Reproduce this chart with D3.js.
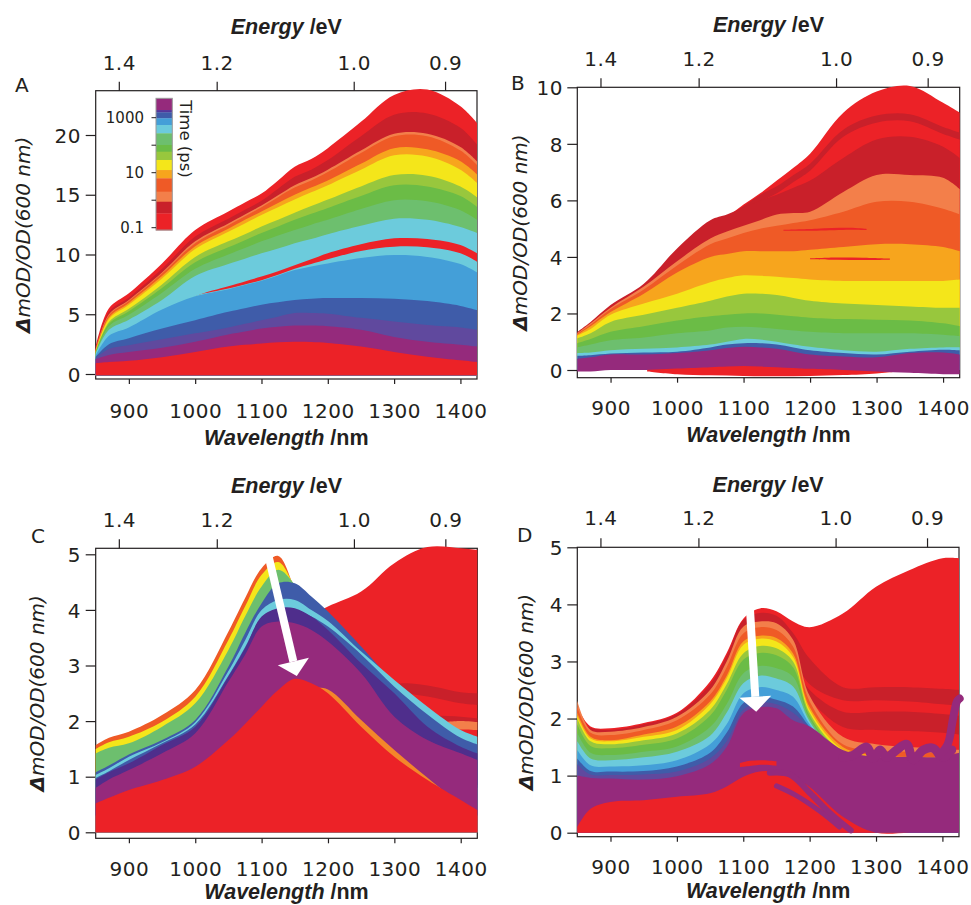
<!DOCTYPE html>
<html>
<head>
	<meta charset="utf-8">
	<style>
		html, body { margin: 0; padding: 0; background: #fff; }
		text { font-family: 'DejaVu Sans', sans-serif; fill: #231f20; }
		.ttl { font-family: 'Liberation Sans', Arial, sans-serif; }
	</style>
</head>
<body>
	<script src="https://d3js.org/d3.v7.min.js"></script>
	<script>
		var wl = [850, 870, 900, 950, 1000, 1050, 1075, 1100, 1125, 1150, 1175, 1200, 1250, 1300, 1350, 1400, 1425];

		// panel A, upper edge of each band, drawn top band first
		var aRed      = [2.3, 5.5, 6.75, 9.25, 12.05, 13.6, 14.35, 15.1, 16.2, 17.35, 18.0, 18.9, 21.1, 23.35, 23.8, 22.4, 21.0];
		var aDarkRed  = [2.1, 5.2, 6.4, 8.8, 11.5, 13.0, 13.75, 14.5, 15.5, 16.5, 17.1, 17.9, 19.9, 21.7, 21.8, 20.6, 19.2];
		var aLOrange  = [2.05, 5.0, 6.2, 8.5, 11.1, 12.6, 13.35, 14.1, 14.95, 15.8, 16.4, 17.1, 18.7, 20.1, 20.1, 19.0, 17.8];
		var aOrange   = [2.0, 4.9, 6.1, 8.4, 10.95, 12.45, 13.2, 13.95, 14.8, 15.6, 16.2, 16.9, 18.5, 19.9, 19.9, 18.7, 17.5];
		var aAmber    = [1.95, 4.75, 5.95, 8.2, 10.7, 12.15, 12.9, 13.6, 14.3, 15.0, 15.6, 16.2, 17.6, 18.9, 18.8, 17.8, 16.7];
		var aYellow   = [1.9, 4.6, 5.8, 8.0, 10.45, 11.9, 12.6, 13.3, 13.95, 14.6, 15.2, 15.8, 17.1, 18.3, 18.2, 17.1, 16.0];
		var aYGreen   = [1.85, 4.35, 5.45, 7.5, 9.8, 11.1, 11.7, 12.35, 12.9, 13.5, 14.05, 14.6, 15.7, 16.65, 16.6, 15.7, 14.8];
		var aGreen    = [1.8, 4.2, 5.25, 7.2, 9.35, 10.6, 11.2, 11.8, 12.35, 12.9, 13.4, 13.9, 14.9, 15.8, 15.7, 14.9, 14.0];
		var aLGreen   = [1.75, 4.0, 4.95, 6.8, 8.8, 10.0, 10.55, 11.1, 11.6, 12.05, 12.5, 12.9, 13.8, 14.55, 14.45, 13.7, 12.9];
		var aLBlue    = [1.7, 3.7, 4.55, 6.2, 8.2, 9.2, 9.65, 10.1, 10.5, 10.95, 11.3, 11.7, 12.4, 13.0, 12.9, 12.3, 11.8];
		var aRedStrip = [1.2, 2.9, 3.5, 4.9, 6.5, 7.35, 7.75, 8.15, 8.6, 9.1, 9.6, 10.1, 10.85, 11.35, 11.3, 10.8, 10.1];
		var aLBlue2   = [1.6, 3.3, 4.0, 5.6, 6.55, 7.15, 7.5, 7.85, 8.3, 8.8, 9.2, 9.6, 10.3, 10.65, 10.6, 10.1, 9.4];
		var aBlue     = [1.55, 3.2, 3.9, 5.4, 6.5, 7.1, 7.45, 7.8, 8.25, 8.7, 9.0, 9.25, 9.7, 9.96, 9.8, 9.2, 8.5];
		var aDBlue    = [1.45, 2.5, 3.0, 3.8, 4.5, 5.2, 5.5, 5.8, 6.0, 6.2, 6.3, 6.35, 6.35, 6.3, 6.1, 5.7, 5.35];
		var aPBlue    = [1.35, 2.1, 2.4, 2.9, 3.4, 3.9, 4.2, 4.5, 4.8, 5.1, 5.1, 5.05, 4.7, 4.4, 4.1, 3.9, 3.7];
		var aPurple   = [1.25, 1.6, 1.85, 2.2, 2.7, 3.3, 3.55, 3.8, 3.95, 4.05, 4.05, 4.0, 3.7, 3.1, 2.7, 2.45, 2.3];
		var aRedLow   = [0.9, 1.0, 1.1, 1.4, 1.85, 2.3, 2.45, 2.55, 2.65, 2.7, 2.68, 2.6, 2.3, 1.85, 1.45, 1.15, 1.0];

		// panel B
		var bRed      = [1.2, 1.55, 2.1, 2.85, 4.0, 5.0, 5.4, 5.85, 6.25, 6.7, 7.15, 7.65, 9.1, 9.85, 10.05, 9.45, 9.1];
		var bDrLine   = [1.3, 1.6, 2.2, 2.9, 4.1, 5.0, 5.4, 5.8, 6.2, 6.5, 6.9, 7.3, 8.5, 9.0, 9.05, 8.6, 8.4];
		var bRed2     = [1.05, 1.35, 1.95, 2.65, 3.85, 4.75, 5.15, 5.55, 5.95, 6.25, 6.65, 7.05, 8.25, 8.75, 8.8, 8.35, 8.15];
		var bDarkRed  = [1.35, 1.7, 2.3, 3.05, 4.3, 5.3, 5.5, 5.75, 6.0, 6.2, 6.45, 6.7, 7.5, 8.15, 8.25, 7.9, 7.5];
		var bLOrange  = [1.3, 1.65, 2.2, 2.95, 3.85, 4.65, 4.9, 5.1, 5.3, 5.5, 5.55, 5.6, 6.3, 6.9, 6.9, 6.8, 6.4];
		var bOrange   = [1.28, 1.6, 2.15, 2.85, 3.7, 4.45, 4.65, 4.85, 5.0, 5.1, 5.2, 5.3, 5.6, 5.95, 5.95, 5.7, 5.5];
		var bAmber    = [1.25, 1.55, 2.05, 2.7, 3.45, 4.0, 4.1, 4.2, 4.2, 4.2, 4.2, 4.25, 4.35, 4.45, 4.45, 4.35, 4.2];
		var bYellow   = [1.22, 1.45, 1.95, 2.35, 2.7, 3.1, 3.25, 3.35, 3.33, 3.3, 3.25, 3.2, 3.15, 3.15, 3.15, 3.15, 3.2];
		var bYGreen   = [1.12, 1.3, 1.7, 1.95, 2.2, 2.45, 2.6, 2.7, 2.7, 2.65, 2.55, 2.45, 2.35, 2.3, 2.25, 2.2, 2.2];
		var bGreen    = [0.95, 1.1, 1.35, 1.55, 1.75, 1.9, 1.95, 2.0, 2.0, 1.95, 1.9, 1.85, 1.8, 1.78, 1.75, 1.65, 1.55];
		var bLGreen   = [0.8, 0.9, 1.05, 1.15, 1.3, 1.4, 1.5, 1.53, 1.5, 1.45, 1.4, 1.35, 1.3, 1.3, 1.3, 1.25, 1.2];
		var bLBlue    = [0.6, 0.62, 0.7, 0.75, 0.8, 0.9, 1.0, 1.1, 1.08, 1.0, 0.9, 0.82, 0.7, 0.65, 0.75, 0.8, 0.8];
		var bDBlue    = [0.5, 0.52, 0.58, 0.62, 0.65, 0.8, 0.9, 0.95, 0.95, 0.9, 0.8, 0.7, 0.6, 0.55, 0.65, 0.72, 0.7];
		var bPurpleHi = [0.4, 0.45, 0.55, 0.55, 0.6, 0.7, 0.78, 0.82, 0.8, 0.75, 0.65, 0.55, 0.48, 0.45, 0.6, 0.62, 0.55];
		var bPurpleLo = [-0.05, -0.05, 0.0, 0.0, 0.05, 0.1, 0.12, 0.14, 0.12, 0.1, 0.07, 0.04, 0.0, -0.05, -0.1, -0.15, -0.15];
		var bRedLowW  = [955, 1000, 1050, 1100, 1150, 1200, 1250, 1300, 1325];
		var bRedLowHi = [0.05, 0.12, 0.15, 0.2, 0.2, 0.15, 0.1, 0.05, -0.05];
		var bRedLowLo = [-0.05, -0.15, -0.19, -0.21, -0.22, -0.21, -0.18, -0.12, -0.07];
		var bStreak1W = [1200, 1240, 1280, 1320];
		var bStreak1Hi = [3.95, 3.98, 3.97, 3.94];
		var bStreak1Lo = [3.92, 3.9, 3.89, 3.9];
		var bStreak2W = [1160, 1210, 1260, 1285];
		var bStreak2Hi = [4.96, 5.0, 5.03, 4.99];
		var bStreak2Lo = [4.93, 4.93, 4.96, 4.95];

		// panel C
		var cBigRed   = [0.6, 0.7, 0.9, 1.2, 1.6, 2.3, 2.7, 3.1, 3.4, 3.7, 3.9, 4.06, 4.33, 4.84, 5.13, 5.11, 5.08];
		var cOrange   = [1.57, 1.7, 1.81, 2.11, 2.56, 3.61, 4.21, 4.75, 4.97, 4.4, 3.9, 3.4, 2.6, 2.0, 1.5, 1.0, 0.8];
		var cYellow   = [1.5, 1.62, 1.72, 1.99, 2.44, 3.46, 4.06, 4.63, 4.86, 4.42, 3.9, 3.4, 2.6, 2.0, 1.5, 1.0, 0.8];
		var cGreen    = [1.42, 1.52, 1.6, 1.9, 2.32, 3.28, 3.88, 4.42, 4.72, 4.45, 3.95, 3.45, 2.65, 2.05, 1.55, 1.05, 0.85];
		var cBlue     = [1.08, 1.2, 1.4, 1.66, 2.02, 2.98, 3.58, 4.12, 4.48, 4.48, 4.24, 3.97, 3.34, 2.68, 2.14, 1.72, 1.6];
		var cLBlue    = [1.03, 1.15, 1.36, 1.62, 1.98, 2.9, 3.45, 4.0, 4.18, 4.18, 4.0, 3.8, 3.25, 2.74, 2.26, 1.84, 1.72];
		var cBlue2    = [0.98, 1.1, 1.3, 1.6, 1.94, 2.82, 3.33, 3.86, 4.0, 4.0, 3.88, 3.7, 3.2, 2.62, 2.12, 1.7, 1.58];
		var cDPurple  = [0.95, 1.08, 1.24, 1.57, 1.9, 2.8, 3.31, 3.88, 4.03, 4.03, 3.88, 3.64, 3.04, 2.5, 1.9, 1.54, 1.42];
		var cPurple   = [0.8, 0.95, 1.12, 1.42, 1.78, 2.71, 3.19, 3.7, 3.79, 3.76, 3.64, 3.43, 2.86, 2.08, 1.66, 1.42, 1.3];
		var cOrangeLn = [0.3, 0.4, 0.5, 0.7, 1.0, 1.5, 1.7, 2.0, 2.3, 2.6, 2.6, 2.57, 2.02, 1.48, 0.98, 0.5, 0.3];
		var cRedLow   = [0.52, 0.62, 0.76, 0.94, 1.18, 1.66, 1.95, 2.26, 2.56, 2.76, 2.68, 2.5, 1.9, 1.36, 0.94, 0.58, 0.4];
		var cDr1W = [1290, 1320, 1360, 1400, 1425];
		var cDr1Hi = [2.66, 2.68, 2.62, 2.52, 2.5];
		var cDr1Lo = [2.58, 2.5, 2.42, 2.32, 2.29];
		var cDr2W = [1320, 1360, 1400, 1425];
		var cDr2Hi = [2.1, 2.1, 2.08, 2.05];
		var cDr2Lo = [2.03, 2.0, 1.98, 1.96];
		var cLoW = [1365, 1400, 1425];
		var cLoHi = [1.97, 2.0, 1.98];
		var cLoLo = [1.86, 1.85, 1.84];
		var cArrowW = [1110, 1153];
		var cArrowV = [4.99, 2.81];

		// panel D
		var dBigRed   = [2.2, 1.86, 1.83, 1.92, 2.1, 2.65, 3.15, 3.75, 3.93, 3.88, 3.7, 3.6, 3.84, 4.31, 4.6, 4.81, 4.81];
		var dDarkRed1 = [2.0, 1.84, 1.8, 1.9, 2.08, 2.6, 3.1, 3.72, 3.85, 3.8, 3.5, 3.05, 2.55, 2.55, 2.55, 2.52, 2.5];
		var dRed2     = [1.8, 1.6, 1.6, 1.65, 1.9, 2.4, 2.85, 3.4, 3.55, 3.5, 3.1, 2.6, 2.32, 2.32, 2.3, 2.25, 2.22];
		var dDarkRed2 = [1.7, 1.55, 1.55, 1.6, 1.85, 2.3, 2.75, 3.3, 3.45, 3.4, 3.0, 2.5, 2.12, 2.12, 2.12, 2.08, 2.05];
		var dRed3     = [1.6, 1.5, 1.5, 1.55, 1.8, 2.2, 2.65, 3.2, 3.35, 3.3, 2.9, 2.35, 1.85, 1.8, 1.78, 1.75, 1.72];
		var dLOrange  = [2.31, 1.8, 1.77, 1.85, 2.03, 2.5, 3.0, 3.61, 3.7, 3.67, 3.38, 2.4, 1.68, 1.55, 1.5, 1.47, 1.45];
		var dOrange   = [2.2, 1.75, 1.71, 1.8, 1.97, 2.42, 2.9, 3.49, 3.6, 3.55, 3.26, 2.3, 1.55, 1.45, 1.42, 1.4, 1.38];
		var dAmber    = [2.1, 1.68, 1.62, 1.72, 1.86, 2.3, 2.75, 3.35, 3.45, 3.41, 3.14, 2.2, 1.5, 1.35, 1.33, 1.32, 1.3];
		var dYellow   = [2.05, 1.65, 1.6, 1.68, 1.8, 2.25, 2.7, 3.29, 3.4, 3.35, 3.08, 2.15, 1.45, 1.3, 1.28, 1.27, 1.25];
		var dYGreen   = [2.0, 1.6, 1.55, 1.62, 1.74, 2.15, 2.6, 3.14, 3.27, 3.23, 3.0, 2.1, 1.4, 1.25, 1.23, 1.22, 1.2];
		var dGreen    = [1.9, 1.52, 1.48, 1.54, 1.65, 2.05, 2.5, 3.03, 3.15, 3.11, 2.9, 2.05, 1.35, 1.2, 1.18, 1.17, 1.15];
		var dLGreen   = [1.75, 1.4, 1.36, 1.42, 1.51, 1.85, 2.25, 2.79, 2.92, 2.88, 2.73, 2.0, 1.3, 1.15, 1.13, 1.12, 1.1];
		var dLBlue    = [1.6, 1.3, 1.27, 1.32, 1.42, 1.7, 2.1, 2.62, 2.75, 2.7, 2.56, 1.95, 1.25, 1.1, 1.08, 1.06, 1.05];
		var dBlue     = [1.45, 1.18, 1.16, 1.18, 1.27, 1.55, 1.9, 2.44, 2.55, 2.5, 2.38, 1.9, 1.2, 1.05, 1.03, 1.02, 1.0];
		var dDBlue    = [1.3, 1.08, 1.07, 1.08, 1.16, 1.4, 1.75, 2.27, 2.38, 2.33, 2.21, 1.85, 1.15, 1.0, 0.98, 0.96, 0.95];
		var dPBlue    = [1.2, 1.02, 1.01, 1.02, 1.07, 1.3, 1.6, 2.15, 2.28, 2.25, 2.1, 1.82, 1.1, 0.95, 0.93, 0.92, 0.9];
		var dPurple   = [1.0, 0.96, 0.95, 0.93, 0.99, 1.2, 1.5, 2.09, 2.2, 2.18, 1.97, 1.86, 1.45, 1.33, 1.33, 1.33, 1.4];
		var dRedLow   = [0.1, 0.42, 0.54, 0.57, 0.63, 0.69, 0.81, 0.98, 1.07, 1.08, 0.98, 0.8, 0.28, 0, 0, 0, 0];
		var dStripW  = [1095, 1110, 1130, 1150];
		var dStripHi = [1.22, 1.26, 1.27, 1.25];
		var dStripLo = [1.15, 1.17, 1.19, 1.17];
		var dLineW = [1140, 1170, 1200, 1230, 1262];
		var dLineV = [1.05, 1.02, 0.7, 0.35, 0.04];
		var dLine2W = [1150, 1180, 1215, 1245];
		var dLine2V = [0.82, 0.65, 0.38, 0.1];
		var dWiggleW = [1250, 1266, 1286, 1296, 1306, 1316, 1331, 1346, 1356, 1371, 1386, 1401, 1414];
		var dWiggleV = [1.32, 1.36, 1.5, 1.3, 1.45, 1.32, 1.45, 1.55, 1.28, 1.45, 1.48, 1.32, 1.45];
		var dSpikeW = [1395, 1408, 1416, 1422, 1426];
		var dSpikeV = [1.35, 1.55, 2.0, 2.3, 2.35];
		var dArrowW = [1110, 1119.5];
		var dArrowV = [3.93, 2.12];

		// colour bar of panel A: band edges in ps, top to bottom
		var timeEdges = [5070, 1900, 1570, 950, 543, 271, 102, 58, 29, 12.5, 6.25, 2.04, 0.88, 0.33, 0.082];
		var timeColors = ["purple", "indigo", "dblue", "blue", "lblue", "lgreen", "green", "ygreen", "yellow", "amber", "orange", "lorange", "darkred", "red"];
		var timeTicks = [1000, 100, 10, 1, 0.1];
		var timeLabels = ["1000", "", "10", "", "0.1"];

		var xTicks = [900, 1000, 1100, 1200, 1300, 1400];
		var eTicks = [1.4, 1.2, 1.0, 0.9];
		var eLabels = ["1.4", "1.2", "1.0", "0.9"];
		var aTicks = [0, 5, 10, 15, 20];
		var bTicks = [0, 2, 4, 6, 8, 10];
		var cdTicks = [0, 1, 2, 3, 4, 5];

		var pal = {
			red: "#ec2227", darkred: "#c9202a", lorange: "#f37f4a", orange: "#ef5a26",
			amber: "#f7a51d", yellow: "#f4e61a", ygreen: "#98c73d", green: "#6bbc46",
			lgreen: "#6dbf6e", lblue: "#6ccbdc", blue: "#449fd8", dblue: "#3f5ca9",
			pblue: "#60499e", indigo: "#55369a", dpurple: "#4f2e8c", purple: "#952a7c",
			oline: "#f4862a"
		};
		var ink = "#231f20";

		var panels = [
			{ name: "A", x0: 95.7, x1: 477, yT: 90.7, yB: 379, yPx: [374, 135], yVal: [0, 20], ticks: aTicks, floor: -0.1,
			  lab: [15, 92], eTitle: 34, eTick: 70, wTick: 418, wTitle: 445, yTitleX: 23, yTickX: 81,
			  bands: [
				{ c: "red", hi: aRed }, { c: "darkred", hi: aDarkRed }, { c: "lorange", hi: aLOrange }, { c: "orange", hi: aOrange },
				{ c: "amber", hi: aAmber }, { c: "yellow", hi: aYellow }, { c: "ygreen", hi: aYGreen }, { c: "green", hi: aGreen },
				{ c: "lgreen", hi: aLGreen }, { c: "lblue", hi: aLBlue }, { c: "red", hi: aRedStrip }, { c: "lblue", hi: aLBlue2 },
				{ c: "blue", hi: aBlue }, { c: "dblue", hi: aDBlue }, { c: "pblue", hi: aPBlue }, { c: "purple", hi: aPurple },
				{ c: "red", hi: aRedLow }
			  ] },
			{ name: "B", x0: 577.3, x1: 959.7, yT: 87.3, yB: 377.7, yPx: [370, 87.3], yVal: [0, 10], ticks: bTicks, floor: 0,
			  lab: [511, 90], eTitle: 31.7, eTick: 65.7, wTick: 415, wTitle: 441.7, yTitleX: 520, yTickX: 563,
			  bands: [
				{ c: "red", hi: bRed }, { c: "darkred", hi: bDrLine }, { c: "red", hi: bRed2 }, { c: "darkred", hi: bDarkRed },
				{ c: "lorange", hi: bLOrange }, { c: "orange", hi: bOrange },
				{ c: "red", x: bStreak2W, hi: bStreak2Hi, lo: bStreak2Lo },
				{ c: "amber", hi: bAmber },
				{ c: "red", x: bStreak1W, hi: bStreak1Hi, lo: bStreak1Lo },
				{ c: "yellow", hi: bYellow }, { c: "ygreen", hi: bYGreen }, { c: "green", hi: bGreen }, { c: "lgreen", hi: bLGreen },
				{ c: "lblue", hi: bLBlue }, { c: "dblue", hi: bDBlue },
				{ c: "red", x: bRedLowW, hi: bRedLowHi, lo: bRedLowLo },
				{ c: "purple", hi: bPurpleHi, lo: bPurpleLo }
			  ] },
			{ name: "C", x0: 95.7, x1: 477.3, yT: 548.3, yB: 838.3, yPx: [832.3, 554.3], yVal: [0, 5], ticks: cdTicks, floor: 0,
			  lab: [31, 543], eTitle: 493.3, eTick: 526.7, wTick: 876, wTitle: 899, yTitleX: 37, yTickX: 81,
			  bands: [
				{ c: "red", hi: cBigRed },
				{ c: "darkred", x: cDr1W, hi: cDr1Hi, lo: cDr1Lo },
				{ c: "darkred", x: cDr2W, hi: cDr2Hi, lo: cDr2Lo },
				{ c: "lorange", x: cLoW, hi: cLoHi, lo: cLoLo },
				{ c: "orange", hi: cOrange }, { c: "yellow", hi: cYellow }, { c: "lgreen", hi: cGreen },
				{ c: "dblue", hi: cBlue }, { c: "lblue", hi: cLBlue }, { c: "dblue", hi: cBlue2 },
				{ c: "dpurple", hi: cDPurple }, { c: "purple", hi: cPurple },
				{ c: "oline", hi: cOrangeLn }, { c: "red", hi: cRedLow }
			  ],
			  arrow: [cArrowW, cArrowV] },
			{ name: "D", x0: 577.3, x1: 959, yT: 547.3, yB: 836.7, yPx: [832.7, 547.3], yVal: [0, 5], ticks: cdTicks, floor: 0,
			  lab: [517, 541.7], eTitle: 491.7, eTick: 525, wTick: 874, wTitle: 898, yTitleX: 526, yTickX: 563,
			  bands: [
				{ c: "red", hi: dBigRed }, { c: "darkred", hi: dDarkRed1 }, { c: "red", hi: dRed2 }, { c: "darkred", hi: dDarkRed2 },
				{ c: "red", hi: dRed3 }, { c: "lorange", hi: dLOrange }, { c: "orange", hi: dOrange }, { c: "amber", hi: dAmber },
				{ c: "yellow", hi: dYellow }, { c: "ygreen", hi: dYGreen }, { c: "green", hi: dGreen }, { c: "lgreen", hi: dLGreen },
				{ c: "lblue", hi: dLBlue }, { c: "blue", hi: dBlue }, { c: "dblue", hi: dDBlue }, { c: "pblue", hi: dPBlue },
				{ c: "purple", hi: dPurple }, { c: "red", hi: dRedLow },
				{ c: "red", x: dStripW, hi: dStripHi, lo: dStripLo }
			  ],
			  lines: [
				{ c: "purple", x: dLineW, v: dLineV, w: 6 },
				{ c: "purple", x: dLine2W, v: dLine2V, w: 5 },
				{ c: "purple", x: dWiggleW, v: dWiggleV, w: 9 },
				{ c: "purple", x: dSpikeW, v: dSpikeV, w: 8 }
			  ],
			  arrow: [dArrowW, dArrowV] }
		];

		var svg = d3.select("body").append("svg")
			.attr("width", 971)
			.attr("height", 905);

		panels.forEach(function(p) {
			var x = d3.scaleLinear().domain([850, 1425]).range([p.x0, p.x1]);
			var y = d3.scaleLinear().domain(p.yVal).range(p.yPx);
			var g = svg.append("g");
			var cx = (p.x0 + p.x1) / 2;

			// frame
			g.append("rect")
				.attr("x", p.x0).attr("y", p.yT)
				.attr("width", p.x1 - p.x0).attr("height", p.yB - p.yT)
				.attr("fill", "none").attr("stroke", ink).attr("stroke-width", 1.2);

			// bottom axis
			var bx = g.append("g").attr("transform", "translate(0," + p.yB + ")")
				.call(d3.axisBottom(x).tickValues(xTicks).tickSize(5).tickSizeOuter(0).tickFormat(d3.format("d")));
			bx.select(".domain").remove();
			bx.selectAll("text").attr("y", p.wTick - p.yB).attr("dy", 0)
				.style("font-size", "20px").style("letter-spacing", "0.5px")
				.style("font-family", "'DejaVu Sans', sans-serif").attr("fill", ink);

			// left axis
			var ly = g.append("g").attr("transform", "translate(" + p.x0 + ",0)")
				.call(d3.axisLeft(y).tickValues(p.ticks).tickSize(10).tickSizeOuter(0).tickFormat(d3.format("d")));
			ly.select(".domain").remove();
			ly.selectAll("text").attr("x", p.yTickX - p.x0).attr("dy", "0.36em")
				.style("font-size", "20px").style("letter-spacing", "0.5px")
				.style("font-family", "'DejaVu Sans', sans-serif").attr("fill", ink);
			g.selectAll(".tick line").attr("stroke", ink).attr("stroke-width", 1.2);

			// top energy axis
			g.selectAll(".etick").data(eTicks).enter().append("line")
				.attr("x1", function(d) { return x(1239.84 / d); })
				.attr("x2", function(d) { return x(1239.84 / d); })
				.attr("y1", p.yT - 9).attr("y2", p.yT)
				.attr("stroke", ink).attr("stroke-width", 1.2);
			g.selectAll(".elab").data(eTicks).enter().append("text")
				.attr("x", function(d) { return x(1239.84 / d); })
				.attr("y", p.eTick)
				.attr("text-anchor", "middle")
				.style("font-size", "20px").style("letter-spacing", "0.5px")
				.text(function(d, i) { return eLabels[i]; });

			// spectra bands
			p.bands.forEach(function(b) {
				var xs = b.x || wl;
				var pts = xs.map(function(w, i) {
					return { w: w, hi: b.hi[i], lo: b.lo ? b.lo[i] : p.floor };
				});
				var area = d3.area()
					.curve(d3.curveCatmullRom.alpha(0.5))
					.x(function(d) { return x(d.w); })
					.y0(function(d) { return y(d.lo); })
					.y1(function(d) { return y(d.hi); });
				g.append("path").attr("d", area(pts)).attr("fill", pal[b.c]);
			});

			(p.lines || []).forEach(function(l) {
				var pts = l.x.map(function(w, i) { return [x(w), y(l.v[i])]; });
				var line = d3.line().curve(d3.curveCatmullRom.alpha(0.5));
				g.append("path").attr("d", line(pts))
					.attr("fill", "none").attr("stroke", pal[l.c])
					.attr("stroke-width", l.w).attr("stroke-linecap", "round").attr("stroke-linejoin", "round");
			});

			// white arrow
			if (p.arrow) {
				var x1 = x(p.arrow[0][0]), y1 = y(p.arrow[1][0]);
				var x2 = x(p.arrow[0][1]), y2 = y(p.arrow[1][1]);
				var ang = Math.atan2(y2 - y1, x2 - x1);
				var hl = 15, hw = 16;
				var hx = x2 - hl * Math.cos(ang), hy = y2 - hl * Math.sin(ang);
				var nx = -Math.sin(ang), ny = Math.cos(ang);
				g.append("line")
					.attr("x1", x1).attr("y1", y1).attr("x2", hx).attr("y2", hy)
					.attr("stroke", "#fff").attr("stroke-width", 8);
				g.append("path")
					.attr("d", "M" + x2 + "," + y2 + "L" + (hx + nx * hw) + "," + (hy + ny * hw) +
						"L" + (hx - nx * hw) + "," + (hy - ny * hw) + "Z")
					.attr("fill", "#fff");
			}

			// titles
			var et = g.append("text").attr("class", "ttl").attr("x", cx).attr("y", p.eTitle)
				.attr("text-anchor", "middle").style("font-size", "21.5px").style("font-weight", "bold");
			et.append("tspan").style("font-style", "italic").text("Energy");
			et.append("tspan").text(" /eV");

			var wt = g.append("text").attr("class", "ttl").attr("x", cx).attr("y", p.wTitle)
				.attr("text-anchor", "middle").style("font-size", "21.5px").style("font-weight", "bold");
			wt.append("tspan").style("font-style", "italic").text("Wavelength");
			wt.append("tspan").text(" /nm");

			var yt = g.append("text")
				.attr("transform", "translate(" + p.yTitleX + "," + ((p.yT + p.yB) / 2) + ") rotate(-90)")
				.attr("text-anchor", "middle").attr("dominant-baseline", "central")
				.style("font-size", "20px").style("font-style", "italic");
			yt.append("tspan").style("font-weight", "bold").text("Δ");
			yt.append("tspan").text("mOD/OD(600 nm)");

			g.append("text").attr("x", p.lab[0]).attr("y", p.lab[1])
				.style("font-size", "20px").text(p.name);
		});

		// colour bar (time, ps) inside panel A
		var tScale = d3.scaleLog().domain([0.1, 1000]).range([227.7, 117.7]);
		var cb = svg.append("g");
		cb.selectAll("rect.seg").data(timeColors).enter().append("rect")
			.attr("x", 156).attr("width", 16.3)
			.attr("y", function(d, i) { return tScale(timeEdges[i]); })
			.attr("height", function(d, i) { return tScale(timeEdges[i + 1]) - tScale(timeEdges[i]) + 0.3; })
			.attr("fill", function(d) { return pal[d]; });
		cb.append("rect")
			.attr("x", 156).attr("width", 16.3)
			.attr("y", tScale(timeEdges[0])).attr("height", tScale(timeEdges[timeEdges.length - 1]) - tScale(timeEdges[0]))
			.attr("fill", "none").attr("stroke", "#9a9a9a").attr("stroke-width", 1);
		cb.selectAll("line.tt").data(timeTicks).enter().append("line")
			.attr("x1", 151.5).attr("x2", 156)
			.attr("y1", function(d) { return tScale(d); }).attr("y2", function(d) { return tScale(d); })
			.attr("stroke", ink).attr("stroke-width", 1);
		cb.selectAll("text.tl").data(timeTicks).enter().append("text")
			.attr("x", 144).attr("y", function(d) { return tScale(d); })
			.attr("dy", "0.36em").attr("text-anchor", "end")
			.style("font-size", "15px")
			.text(function(d, i) { return timeLabels[i]; });
		cb.append("text")
			.attr("transform", "translate(179.5,139) rotate(90)")
			.attr("text-anchor", "middle")
			.style("font-size", "16.5px")
			.text("Time (ps)");
	</script>
</body>
</html>
